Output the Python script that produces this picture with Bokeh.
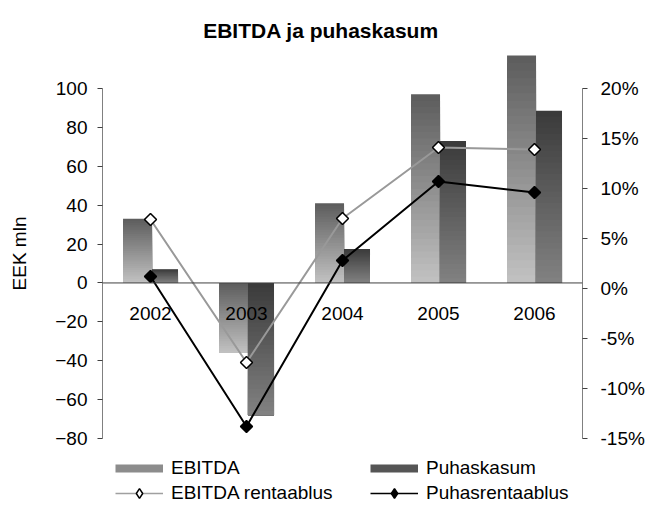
import math
import numpy as np
from bokeh.plotting import figure
from bokeh.models import (Range1d, LinearAxis, FixedTicker, PrintfTickFormatter, FactorRange,
                          ColumnDataSource, Span, Legend, LegendItem, Label)
from bokeh.transform import dodge
from bokeh.core.properties import value
from bokeh.embed import file_html
from bokeh.resources import INLINE

# ---- data ----
years = ["2002", "2003", "2004", "2005", "2006"]
ebitda = [33, -36, 41, 97, 117]            # EEK mln
puhaskasum = [7, -68, 17.5, 73, 88.5]      # EEK mln
ebitda_rent = [6.9, -7.4, 7.0, 14.1, 13.9]  # %
puhas_rent = [1.2, -13.8, 2.8, 10.7, 9.6]   # %
left_ticks = [-80, -60, -40, -20, 0, 20, 40, 60, 80, 100]
right_ticks = [-15, -10, -5, 0, 5, 10, 15, 20]

FONT = "Liberation Sans"


def hex2rgb(h):
    h = h.lstrip("#")
    return tuple(int(h[i:i + 2], 16) for i in (0, 2, 4))


def lerp_color(c1, c2, t):
    a, b = hex2rgb(c1), hex2rgb(c2)
    return "#%02x%02x%02x" % tuple(int(round(a[i] + (b[i] - a[i]) * t)) for i in range(3))


def gradient_source(vals, dark, light, n=30):
    xs, tops, bottoms, colors = [], [], [], []
    for yr, v in zip(years, vals):
        lo, hi = min(0, v), max(0, v)
        for k in range(n, 0, -1):
            t = (k - 0.5) / n
            xs.append(yr)
            bottoms.append(lo)
            tops.append(lo + (hi - lo) * k / n)
            colors.append(lerp_color(light, dark, t))
    return ColumnDataSource(dict(x=xs, top=tops, bottom=bottoms, color=colors))


# frame covers the full height; axes are limited with bounds
p = figure(width=651, height=506, output_backend="svg", toolbar_location=None,
           x_range=FactorRange(factors=years), y_range=Range1d(-114.97, 145.26),
           x_axis_location=None, min_border_left=102, min_border_right=69,
           min_border_top=0, min_border_bottom=0)
p.outline_line_color = None
p.grid.visible = False
p.background_fill_color = "white"
p.extra_y_ranges = {"pct": Range1d(-21.8, 28.8)}

# left axis
ya = p.yaxis[0]
ya.ticker = FixedTicker(ticks=left_ticks)
ya.bounds = (-80, 100)
ya.axis_label = "EEK mln"
ya.axis_label_text_font = FONT
ya.axis_label_text_font_size = "19px"
ya.axis_label_text_font_style = "normal"
ya.axis_label_text_color = "black"
ya.axis_label_standoff = 22
ya.major_label_text_font = FONT
ya.major_label_text_font_size = "19px"
ya.major_label_text_color = "black"
ya.major_label_standoff = 10
ya.axis_line_color = "#808080"
ya.major_tick_line_color = "#404040"
ya.major_tick_out = 5
ya.major_tick_in = 0
ya.minor_tick_line_color = None

ra = LinearAxis(y_range_name="pct", ticker=FixedTicker(ticks=right_ticks), bounds=(-15, 20),
                formatter=PrintfTickFormatter(format="%d%%"))
ra.major_label_text_font = FONT
ra.major_label_text_font_size = "19px"
ra.major_label_text_color = "black"
ra.major_label_standoff = 13
ra.axis_line_color = "#808080"
ra.major_tick_line_color = "#404040"
ra.major_tick_out = 5
ra.major_tick_in = 0
ra.minor_tick_line_color = None
p.add_layout(ra, "right")

# bars with vertical gradient
src_e = gradient_source(ebitda, "#5c5c5c", "#c2c2c2")
src_p = gradient_source(puhaskasum, "#3a3a3a", "#828282")
p.vbar(x=dodge("x", -0.135, range=p.x_range), width=0.302, top="top", bottom="bottom",
       fill_color="color", line_color=None, source=src_e)
p.vbar(x=dodge("x", 0.151, range=p.x_range), width=0.271, top="top", bottom="bottom",
       fill_color="color", line_color=None, source=src_p)

p.add_layout(Span(location=0, dimension="width", line_color="#404040", line_width=1))

# category labels at the zero line
p.text(x=years, y=[0] * len(years), text=years, y_offset=31, text_align="center",
       text_baseline="middle", text_font=value(FONT), text_font_size="19px", text_color="black")

# lines
p.line(years, ebitda_rent, y_range_name="pct", line_color="#999999", line_width=2)
p.scatter(years, ebitda_rent, y_range_name="pct", marker="square", angle=math.pi / 4,
          size=8.5, fill_color="white", line_color="black", line_width=1.5)
p.line(years, puhas_rent, y_range_name="pct", line_color="black", line_width=2)
p.scatter(years, puhas_rent, y_range_name="pct", marker="square", angle=math.pi / 4,
          size=8.5, fill_color="black", line_color="black", line_width=1.5)

# legend-only renderers (a single NaN point, so nothing is drawn in the plot)
def dummy():
    return ColumnDataSource(dict(x=[years[0]], y=np.array([np.nan])))


lg_bar_e = p.line("x", "y", source=dummy(), line_color="#8c8c8c", line_width=8, line_cap="butt")
lg_bar_p = p.line("x", "y", source=dummy(), line_color="#555555", line_width=8, line_cap="butt")
lg_line_e = p.line("x", "y", source=dummy(), line_color="#a0a0a0", line_width=1.5)
lg_mark_e = p.scatter("x", "y", source=dummy(), marker="diamond", fill_color="white",
                      line_color="black", line_width=1.5)
lg_line_p = p.line("x", "y", source=dummy(), line_color="black", line_width=1.5)
lg_mark_p = p.scatter("x", "y", source=dummy(), marker="diamond", fill_color="black",
                      line_color="black", line_width=1.5)


def make_legend(items, loc):
    return Legend(items=items, location=loc, orientation="vertical", glyph_width=48, glyph_height=24,
                  label_standoff=8, label_height=19, spacing=1, padding=0, margin=0,
                  border_line_color=None, background_fill_alpha=0,
                  label_text_font=FONT, label_text_font_size="19px", label_text_color="black")


p.add_layout(make_legend([LegendItem(label="EBITDA", renderers=[lg_bar_e]),
                          LegendItem(label="EBITDA rentaablus", renderers=[lg_line_e, lg_mark_e])],
                         (13, 1)))
p.add_layout(make_legend([LegendItem(label="Puhaskasum", renderers=[lg_bar_p]),
                          LegendItem(label="Puhasrentaablus", renderers=[lg_line_p, lg_mark_p])],
                         (268, 1)))

p.add_layout(Label(x=218.5, y=476, x_units="screen", y_units="screen", text="EBITDA ja puhaskasum",
                   text_align="center", text_baseline="alphabetic", text_font=FONT,
                   text_font_style="bold", text_font_size="21px", text_color="black"))

open("out.html", "w").write(file_html(p, INLINE))
